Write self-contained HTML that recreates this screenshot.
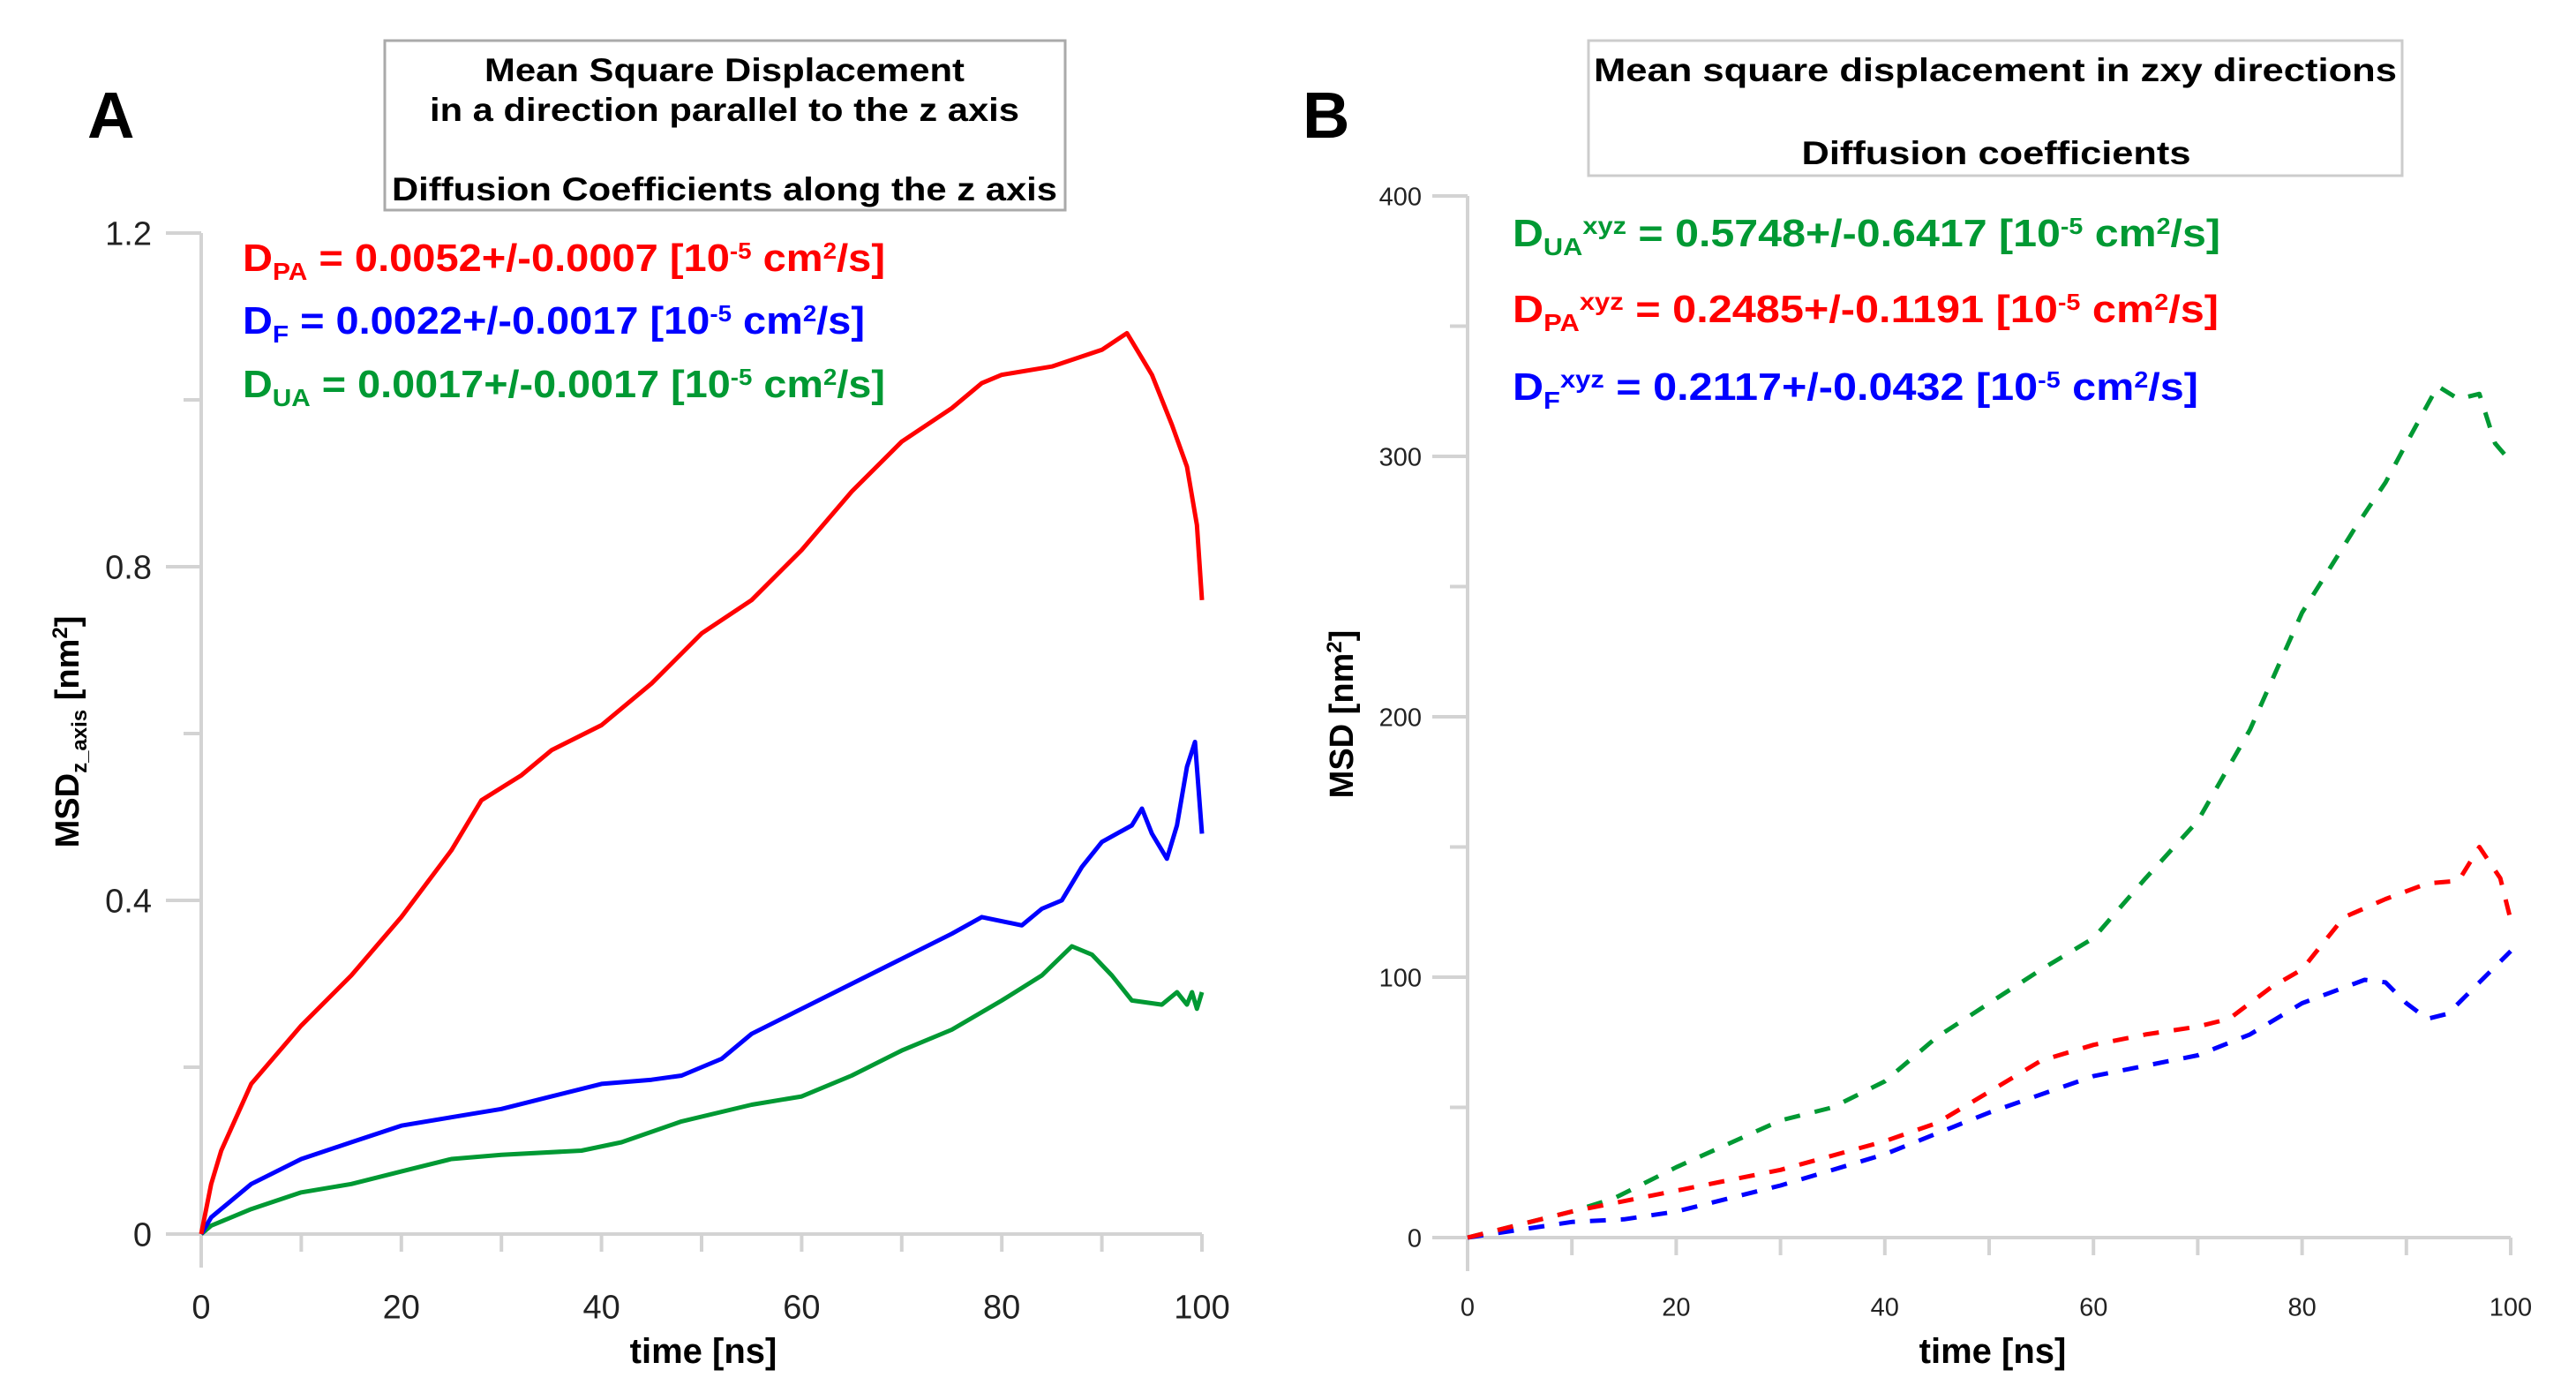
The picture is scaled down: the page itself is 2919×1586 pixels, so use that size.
<!DOCTYPE html>
<html><head><meta charset="utf-8"><style>
html,body{margin:0;padding:0;background:#fff;}
svg{display:block;font-family:"Liberation Sans",Arial,sans-serif;}
</style></head><body>
<svg id="chart" width="2919" height="1586" viewBox="0 0 2919 1586" xmlns="http://www.w3.org/2000/svg">
<rect width="2919" height="1586" fill="#fff"/>
<text x="99" y="156" font-size="74" font-weight="bold">A</text>
<text x="1476" y="156" font-size="74" font-weight="bold">B</text>
<g>
<rect x="436" y="46" width="771" height="192" fill="#fff" stroke="#aaa" stroke-width="3"/>
<text x="821" y="92" font-size="37" font-weight="bold" text-anchor="middle" textLength="544" lengthAdjust="spacingAndGlyphs">Mean Square Displacement</text>
<text x="821" y="137" font-size="37" font-weight="bold" text-anchor="middle" textLength="668" lengthAdjust="spacingAndGlyphs">in a direction parallel to the z axis</text>
<text x="821" y="227" font-size="37" font-weight="bold" text-anchor="middle" textLength="754" lengthAdjust="spacingAndGlyphs">Diffusion Coefficients along the z axis</text>
</g>
<g>
<rect x="1800" y="46" width="922" height="153" fill="#fff" stroke="#ccc" stroke-width="3"/>
<text x="2261" y="92" font-size="37" font-weight="bold" text-anchor="middle" textLength="910" lengthAdjust="spacingAndGlyphs">Mean square displacement in zxy directions</text>
<text x="2262" y="186" font-size="37" font-weight="bold" text-anchor="middle" textLength="441" lengthAdjust="spacingAndGlyphs">Diffusion coefficients</text>
</g>
<g id="axesA"></g><g id="axesB"></g>
<g id="seriesA"></g><g id="seriesB"></g>
<g font-weight="bold" font-size="44">
<text x="275" y="307" fill="#ff0000" textLength="728" lengthAdjust="spacingAndGlyphs">D<tspan font-size="28" dy="10">PA</tspan><tspan dy="-10"> = 0.0052+/-0.0007 [10</tspan><tspan font-size="26" dy="-14">-5</tspan><tspan dy="14"> cm</tspan><tspan font-size="26" dy="-14">2</tspan><tspan dy="14">/s]</tspan></text>
<text x="275" y="378" fill="#0000ff" textLength="705" lengthAdjust="spacingAndGlyphs">D<tspan font-size="28" dy="10">F</tspan><tspan dy="-10"> = 0.0022+/-0.0017 [10</tspan><tspan font-size="26" dy="-14">-5</tspan><tspan dy="14"> cm</tspan><tspan font-size="26" dy="-14">2</tspan><tspan dy="14">/s]</tspan></text>
<text x="275" y="450" fill="#009933" textLength="728" lengthAdjust="spacingAndGlyphs">D<tspan font-size="28" dy="10">UA</tspan><tspan dy="-10"> = 0.0017+/-0.0017 [10</tspan><tspan font-size="26" dy="-14">-5</tspan><tspan dy="14"> cm</tspan><tspan font-size="26" dy="-14">2</tspan><tspan dy="14">/s]</tspan></text>
</g>
<g font-weight="bold" font-size="44">
<text x="1714" y="279" fill="#009933" textLength="802" lengthAdjust="spacingAndGlyphs">D<tspan font-size="28" dy="10">UA</tspan><tspan font-size="28" dy="-24">xyz</tspan><tspan dy="14"> = 0.5748+/-0.6417 [10</tspan><tspan font-size="26" dy="-14">-5</tspan><tspan dy="14"> cm</tspan><tspan font-size="26" dy="-14">2</tspan><tspan dy="14">/s]</tspan></text>
<text x="1714" y="365" fill="#ff0000" textLength="800" lengthAdjust="spacingAndGlyphs">D<tspan font-size="28" dy="10">PA</tspan><tspan font-size="28" dy="-24">xyz</tspan><tspan dy="14"> = 0.2485+/-0.1191 [10</tspan><tspan font-size="26" dy="-14">-5</tspan><tspan dy="14"> cm</tspan><tspan font-size="26" dy="-14">2</tspan><tspan dy="14">/s]</tspan></text>
<text x="1714" y="453" fill="#0000ff" textLength="777" lengthAdjust="spacingAndGlyphs">D<tspan font-size="28" dy="10">F</tspan><tspan font-size="28" dy="-24">xyz</tspan><tspan dy="14"> = 0.2117+/-0.0432 [10</tspan><tspan font-size="26" dy="-14">-5</tspan><tspan dy="14"> cm</tspan><tspan font-size="26" dy="-14">2</tspan><tspan dy="14">/s]</tspan></text>
</g>
<text x="797" y="1544" font-size="40" font-weight="bold" text-anchor="middle">time [ns]</text>
<text x="2258" y="1544" font-size="40" font-weight="bold" text-anchor="middle">time [ns]</text>
<text transform="translate(89,829) rotate(-90)" font-size="38" font-weight="bold" text-anchor="middle">MSD<tspan font-size="24" dy="9">z_axis</tspan><tspan dy="-9"> [nm</tspan><tspan font-size="24" dy="-13">2</tspan><tspan dy="13">]</tspan></text>
<text transform="translate(1533,809) rotate(-90)" font-size="38" font-weight="bold" text-anchor="middle">MSD [nm<tspan font-size="24" dy="-13">2</tspan><tspan dy="13">]</tspan></text>
</svg>
<script>
// Panel A data (time ns, MSD z-axis nm^2)
const timeRed = [0,1,2,5,10,15,20,25,28,32,35,40,45,50,55,60,65,70,75,78,80,85,90,92.5,94,95,97,98.5,99.5,100];
const msdRed  = [0,0.06,0.1,0.18,0.25,0.31,0.38,0.46,0.52,0.55,0.58,0.61,0.66,0.72,0.76,0.82,0.89,0.95,0.99,1.02,1.03,1.04,1.06,1.08,1.05,1.03,0.97,0.92,0.85,0.76];
const timeBlue = [0,1,5,10,15,20,25,30,35,40,45,48,52,55,60,65,70,75,78,82,84,86,88,90,93,94,95,96.5,97.5,98.5,99.3,100];
const msdBlue  = [0,0.02,0.06,0.09,0.11,0.13,0.14,0.15,0.165,0.18,0.185,0.19,0.21,0.24,0.27,0.3,0.33,0.36,0.38,0.37,0.39,0.40,0.44,0.47,0.49,0.51,0.48,0.45,0.49,0.56,0.59,0.48];
const timeGreen = [0,1,5,10,15,20,25,30,38,42,48,55,60,65,70,75,80,84,87,89,91,93,96,97.5,98.5,99,99.5,100];
const msdGreen  = [0,0.01,0.03,0.05,0.06,0.075,0.09,0.095,0.1,0.11,0.135,0.155,0.165,0.19,0.22,0.245,0.28,0.31,0.345,0.335,0.31,0.28,0.275,0.29,0.275,0.29,0.27,0.29];
// Panel B data (time ns, MSD nm^2)
const timeB = [0,10,14,20,30,35,40,45,50,55,60,65,70,75,80,85,88,90,93,95,97,98.5,100];
const msdUAxyz = [0,10,15,27,45,50,60,77,90,103,115,138,160,195,240,272,290,305,327,322,324,305,298];
const timeBR = [0,10,20,30,40,45,50,55,60,65,70,73,77,80,84,88,92,95,97,99,100];
const msdPAxyz = [0,10,18,26,37,44,56,68,74,78,81,84,96,103,123,130,136,137,150,138,122];
const timeBB = [0,10,15,20,30,40,50,60,70,75,80,86,88,90,92,94,97,100];
const msdFxyz = [0,6,7,10,20,32,48,62,70,78,90,99,98,90,84,86,98,110];
const ticksA = ["0","0.4","0.8","1.2"];
const ticksB = ["0","100","200","300","400"];
const ticksX = ["0","20","40","60","80","100"];

const NS="http://www.w3.org/2000/svg";
function mk(tag,attrs,parent){const e=document.createElementNS(NS,tag);for(const k in attrs)e.setAttribute(k,attrs[k]);parent.appendChild(e);return e;}
const A={x0:228,x1:1362,y0:1398,y1:264,ymax:1.2};
const B={x0:1663,x1:2845,y0:1402,y1:222,ymax:400};
const xs=(p,v)=>p.x0+(p.x1-p.x0)*v/100;
const ys=(p,v)=>p.y0-(p.y0-p.y1)*v/p.ymax;

function axes(p,g,ticks,minorStep,fs,labRight,name){
  const ax=mk('g',{},g);
  
  
  const st={stroke:'#d3d3d3','stroke-width':4};
  mk('line',Object.assign({x1:p.x0,y1:p.y1,x2:p.x0,y2:p.y0+38},st),ax);
  mk('line',Object.assign({x1:p.x0-40,y1:p.y0,x2:p.x1,y2:p.y0},st),ax);
  const nMinor=Math.round(p.ymax/minorStep);
  for(let i=1;i<=nMinor;i++){
    const v=i*minorStep, y=ys(p,v);
    const major=(i%2===0);
    mk('line',Object.assign({x1:p.x0-(major?40:20),y1:y,x2:p.x0,y2:y},st),ax);
  }
  ticks.forEach(t=>{
    const tx=mk('text',{x:labRight,y:ys(p,parseFloat(t))+fs*0.36,'font-size':fs,'text-anchor':'end',fill:'#222'},ax);
    
    
    tx.textContent=t;
  });
  for(let v=10;v<=100;v+=10){mk('line',Object.assign({x1:xs(p,v),y1:p.y0,x2:xs(p,v),y2:p.y0+20},st),ax);}
  ticksX.forEach(t=>{
    const tx=mk('text',{x:xs(p,parseFloat(t)),y:1480+fs*0.36,'font-size':fs,'text-anchor':'middle',fill:'#222'},ax);
    
    
    tx.textContent=t;
  });
}
axes(A,document.getElementById('axesA'),ticksA,0.2,38,172,'axes-a');
axes(B,document.getElementById('axesB'),ticksB,50,29,1611,'axes-b');

function line(p,g,xsArr,ysArr,color,dash,name){
  const d=xsArr.map((x,i)=>(i?'L':'M')+xs(p,x).toFixed(1)+','+ys(p,ysArr[i]).toFixed(1)).join(' ');
  const attrs={d:d,fill:'none',stroke:color,'stroke-width':5,'stroke-linejoin':'round'};
  if(dash)attrs['stroke-dasharray']='18 17';
  const el=mk('path',attrs,g);
  
  
}
const gA=document.getElementById('seriesA'), gB=document.getElementById('seriesB');
line(A,gA,timeGreen,msdGreen,'#009933',false,'line-ua');
line(A,gA,timeBlue,msdBlue,'#0000ff',false,'line-f');
line(A,gA,timeRed,msdRed,'#ff0000',false,'line-pa');
line(B,gB,timeB,msdUAxyz,'#009933',true,'line-ua-xyz');
line(B,gB,timeBB,msdFxyz,'#0000ff',true,'line-f-xyz');
line(B,gB,timeBR,msdPAxyz,'#ff0000',true,'line-pa-xyz');
</script>
</body></html>
